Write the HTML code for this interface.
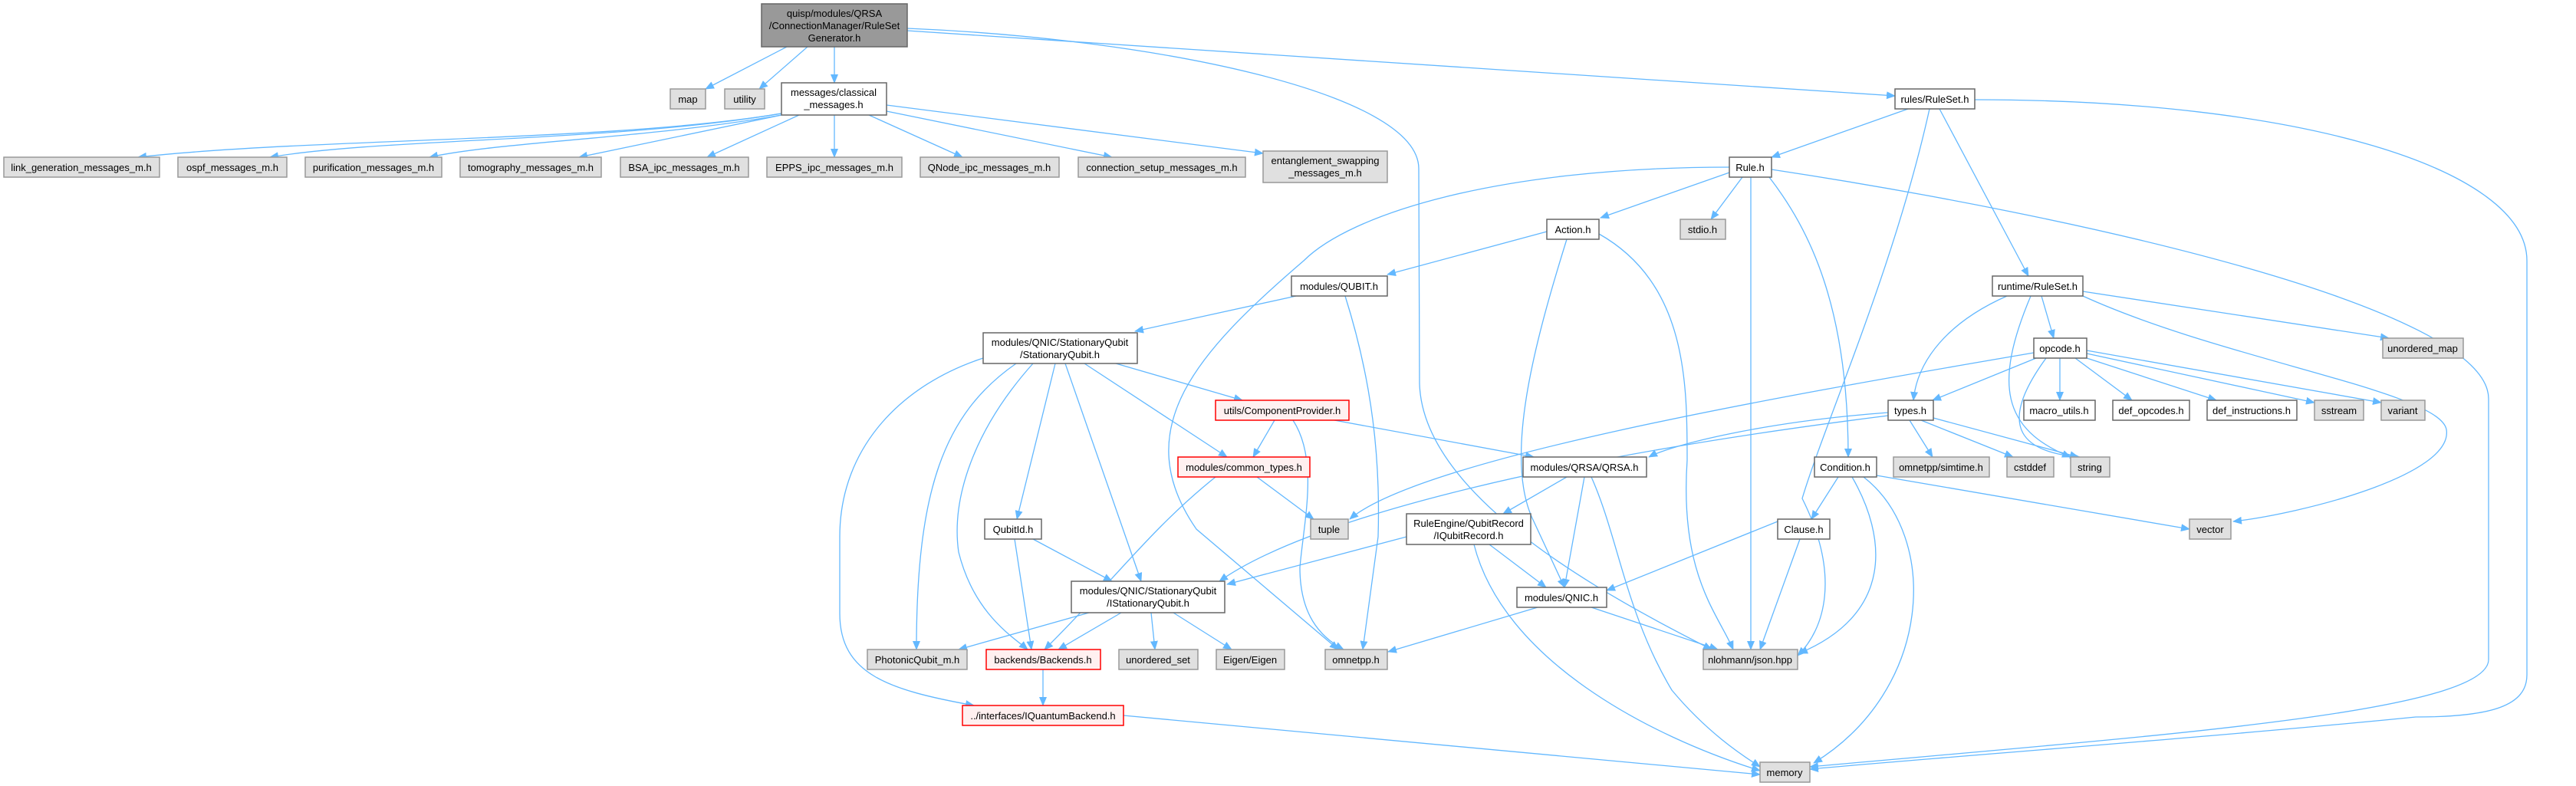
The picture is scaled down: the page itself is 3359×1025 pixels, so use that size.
<!DOCTYPE html>
<html><head><meta charset="utf-8"><style>
html,body{margin:0;padding:0;background:#fff}
svg{display:block}
text{font-family:"Liberation Sans",Helvetica,Arial,sans-serif;font-size:13px;fill:#000;text-anchor:middle}
.e{fill:none;stroke:#63b8ff;stroke-width:1.3}
.x{fill:#e0e0e0;stroke:#999;stroke-width:1.5}
.w{fill:#fff;stroke:#666;stroke-width:1.5}
.r{fill:#fff0f0;stroke:#f00;stroke-width:1.5}
.m{fill:#999;stroke:#666;stroke-width:1.5}
</style></head><body>
<svg width="3359" height="1025" viewBox="0 0 3359 1025" xmlns="http://www.w3.org/2000/svg">
<defs><marker id="a" markerUnits="userSpaceOnUse" markerWidth="12" markerHeight="10" refX="11" refY="5" orient="auto"><path d="M0,0 L12,5 L0,10 z" fill="#63b8ff"/></marker></defs>
<g marker-end="url(#a)">
<path class="e" d="M1026 61 L920 116"/>
<path class="e" d="M1053 61 L990 116"/>
<path class="e" d="M1088 61 L1088 108"/>
<path class="e" d="M1183 37 C1500 50 1850 120 1850 220 L1851 500 C1855 650 2100 780 2232 847"/>
<path class="e" d="M1183 40 L2471 125"/>
<path class="e" d="M1019 148 C800 185 400 180 180 205"/>
<path class="e" d="M1019 148 C800 185 500 180 352 205"/>
<path class="e" d="M1019 150 C850 180 650 185 560 205"/>
<path class="e" d="M1019 150 L755 205"/>
<path class="e" d="M1042 150 L922 205"/>
<path class="e" d="M1088 150 L1088 205"/>
<path class="e" d="M1133 150 L1255 205"/>
<path class="e" d="M1156 145 L1450 205"/>
<path class="e" d="M1156 137 L1647 200"/>
<path class="e" d="M2488 142 L2310 205"/>
<path class="e" d="M2516 142 C2470 350 2380 550 2350 650 C2400 750 2380 820 2344 855"/>
<path class="e" d="M2529 142 L2645 360"/>
<path class="e" d="M2575 130 C3000 130 3295 220 3295 340 L3295 880 C3295 920 3250 935 3150 935 C2900 960 2500 990 2360 1003"/>
<path class="e" d="M2255 225 L2087 284"/>
<path class="e" d="M2272 231 L2231 286"/>
<path class="e" d="M2283 231 L2283 847"/>
<path class="e" d="M2307 231 C2360 300 2410 400 2410 596"/>
<path class="e" d="M2310 221 C2700 280 3245 400 3245 520 L3245 860 C3245 930 2800 960 2360 1000"/>
<path class="e" d="M2255 218 C1950 218 1760 280 1700 340 C1560 460 1470 560 1560 690 L1745 847"/>
<path class="e" d="M2017 302 L1809 358"/>
<path class="e" d="M2043 312 C2000 450 1960 600 2000 680 L2040 766"/>
<path class="e" d="M2085 305 C2200 370 2200 500 2200 600 C2190 750 2240 800 2260 847"/>
<path class="e" d="M1690 386 L1480 432"/>
<path class="e" d="M1754 386 C1790 500 1800 600 1797 700 L1777 847"/>
<path class="e" d="M1455 474 L1620 522"/>
<path class="e" d="M1414 474 L1600 596"/>
<path class="e" d="M1376 474 L1326 677"/>
<path class="e" d="M1389 474 L1488 758"/>
<path class="e" d="M1347 474 C1270 560 1240 650 1250 720 C1270 800 1320 830 1340 847"/>
<path class="e" d="M1325 474 C1230 540 1195 640 1195 847"/>
<path class="e" d="M1282 467 C1180 500 1095 580 1095 700 L1095 800 C1095 880 1160 900 1270 920"/>
<path class="e" d="M1662 548 L1634 596"/>
<path class="e" d="M1740 548 L2000 596"/>
<path class="e" d="M1686 548 C1720 600 1700 680 1695 740 C1695 800 1720 830 1752 847"/>
<path class="e" d="M1639 622 L1713 677"/>
<path class="e" d="M1585 622 C1500 690 1450 760 1362 847"/>
<path class="e" d="M2043 622 L1960 670"/>
<path class="e" d="M2066 622 L2040 766"/>
<path class="e" d="M2075 622 C2110 700 2120 800 2180 900 C2230 960 2280 990 2295 1000"/>
<path class="e" d="M1834 700 L1600 762"/>
<path class="e" d="M1942 710 L2016 766"/>
<path class="e" d="M1922 710 C1960 860 2150 960 2295 1005"/>
<path class="e" d="M1347 703 L1450 758"/>
<path class="e" d="M1323 703 L1345 847"/>
<path class="e" d="M1420 799 L1250 847"/>
<path class="e" d="M1462 799 L1380 847"/>
<path class="e" d="M1501 799 L1506 847"/>
<path class="e" d="M1530 799 L1606 847"/>
<path class="e" d="M1360 873 L1360 920"/>
<path class="e" d="M1465 933 L2295 1010"/>
<path class="e" d="M2005 792 L1810 850"/>
<path class="e" d="M2075 792 L2240 847"/>
<path class="e" d="M2318 680 L2095 770"/>
<path class="e" d="M2347 703 L2295 847"/>
<path class="e" d="M2397 622 L2362 677"/>
<path class="e" d="M2447 620 L2855 690"/>
<path class="e" d="M2415 622 C2460 700 2470 800 2346 852"/>
<path class="e" d="M2430 622 C2530 700 2520 900 2365 995"/>
<path class="e" d="M2617 386 C2540 420 2500 470 2495 522"/>
<path class="e" d="M2662 386 L2678 441"/>
<path class="e" d="M2648 386 C2600 500 2610 560 2700 596"/>
<path class="e" d="M2716 380 L3115 441"/>
<path class="e" d="M2716 386 C2900 470 3180 510 3190 560 C3200 620 3000 670 2912 680"/>
<path class="e" d="M2655 467 L2520 522"/>
<path class="e" d="M2686 467 L2686 522"/>
<path class="e" d="M2706 467 L2780 522"/>
<path class="e" d="M2721 467 L2890 522"/>
<path class="e" d="M2721 461 L3018 525"/>
<path class="e" d="M2721 457 L3105 525"/>
<path class="e" d="M2668 467 C2600 560 2640 590 2712 596"/>
<path class="e" d="M2652 460 C2300 520 1850 600 1760 677"/>
<path class="e" d="M2490 548 L2520 596"/>
<path class="e" d="M2505 548 L2625 596"/>
<path class="e" d="M2521 545 L2710 596"/>
<path class="e" d="M2462 538 C2300 550 2180 580 2150 596"/>
<path class="e" d="M2462 542 C2000 600 1700 680 1590 758"/>
</g>

<rect class="m" x="993" y="5" width="190" height="56"/>
<text x="1088" y="22">quisp/modules/QRSA</text><text x="1088" y="38">/ConnectionManager/RuleSet</text><text x="1088" y="54">Generator.h</text>
<rect class="x" x="874" y="116" width="46" height="26"/><text x="897" y="134">map</text>
<rect class="x" x="945" y="116" width="52" height="26"/><text x="971" y="134">utility</text>
<rect class="w" x="1019" y="108" width="137" height="42"/><text x="1087" y="125">messages/classical</text><text x="1087" y="141">_messages.h</text>
<rect class="x" x="5" y="205" width="203" height="26"/><text x="106" y="223">link_generation_messages_m.h</text>
<rect class="x" x="232" y="205" width="142" height="26"/><text x="303" y="223">ospf_messages_m.h</text>
<rect class="x" x="398" y="205" width="178" height="26"/><text x="487" y="223">purification_messages_m.h</text>
<rect class="x" x="600" y="205" width="184" height="26"/><text x="692" y="223">tomography_messages_m.h</text>
<rect class="x" x="809" y="205" width="167" height="26"/><text x="892" y="223">BSA_ipc_messages_m.h</text>
<rect class="x" x="1000" y="205" width="176" height="26"/><text x="1088" y="223">EPPS_ipc_messages_m.h</text>
<rect class="x" x="1200" y="205" width="181" height="26"/><text x="1290" y="223">QNode_ipc_messages_m.h</text>
<rect class="x" x="1406" y="205" width="218" height="26"/><text x="1515" y="223">connection_setup_messages_m.h</text>
<rect class="x" x="1647" y="197" width="162" height="41"/><text x="1728" y="214">entanglement_swapping</text><text x="1728" y="230">_messages_m.h</text>
<rect class="w" x="2471" y="116" width="104" height="26"/><text x="2523" y="134">rules/RuleSet.h</text>
<rect class="w" x="2255" y="205" width="55" height="26"/><text x="2282" y="223">Rule.h</text>
<rect class="w" x="2017" y="286" width="68" height="26"/><text x="2051" y="304">Action.h</text>
<rect class="x" x="2191" y="286" width="59" height="26"/><text x="2220" y="304">stdio.h</text>
<rect class="w" x="1684" y="360" width="125" height="26"/><text x="1746" y="378">modules/QUBIT.h</text>
<rect class="w" x="2598" y="360" width="118" height="26"/><text x="2657" y="378">runtime/RuleSet.h</text>
<rect class="w" x="1282" y="434" width="201" height="40"/><text x="1382" y="451">modules/QNIC/StationaryQubit</text><text x="1382" y="467">/StationaryQubit.h</text>
<rect class="w" x="2652" y="441" width="69" height="26"/><text x="2686" y="459">opcode.h</text>
<rect class="x" x="3107" y="441" width="105" height="26"/><text x="3159" y="459">unordered_map</text>
<rect class="r" x="1585" y="522" width="174" height="26"/><text x="1672" y="540">utils/ComponentProvider.h</text>
<rect class="w" x="2462" y="522" width="59" height="26"/><text x="2491" y="540">types.h</text>
<rect class="w" x="2639" y="522" width="93" height="26"/><text x="2685" y="540">macro_utils.h</text>
<rect class="w" x="2755" y="522" width="100" height="26"/><text x="2805" y="540">def_opcodes.h</text>
<rect class="w" x="2878" y="522" width="117" height="26"/><text x="2936" y="540">def_instructions.h</text>
<rect class="x" x="3018" y="522" width="64" height="26"/><text x="3050" y="540">sstream</text>
<rect class="x" x="3105" y="522" width="57" height="26"/><text x="3133" y="540">variant</text>
<rect class="r" x="1536" y="596" width="172" height="26"/><text x="1622" y="614">modules/common_types.h</text>
<rect class="w" x="1986" y="596" width="161" height="26"/><text x="2066" y="614">modules/QRSA/QRSA.h</text>
<rect class="w" x="2366" y="596" width="81" height="26"/><text x="2406" y="614">Condition.h</text>
<rect class="x" x="2469" y="596" width="125" height="26"/><text x="2531" y="614">omnetpp/simtime.h</text>
<rect class="x" x="2617" y="596" width="61" height="26"/><text x="2647" y="614">cstddef</text>
<rect class="x" x="2700" y="596" width="51" height="26"/><text x="2725" y="614">string</text>
<rect class="w" x="1284" y="677" width="74" height="26"/><text x="1321" y="695">QubitId.h</text>
<rect class="x" x="1709" y="677" width="49" height="26"/><text x="1733" y="695">tuple</text>
<rect class="w" x="1834" y="670" width="162" height="40"/><text x="1915" y="687">RuleEngine/QubitRecord</text><text x="1915" y="703">/IQubitRecord.h</text>
<rect class="w" x="2318" y="677" width="68" height="26"/><text x="2352" y="695">Clause.h</text>
<rect class="x" x="2855" y="677" width="54" height="26"/><text x="2882" y="695">vector</text>
<rect class="w" x="1397" y="758" width="200" height="41"/><text x="1497" y="775">modules/QNIC/StationaryQubit</text><text x="1497" y="791">/IStationaryQubit.h</text>
<rect class="w" x="1978" y="766" width="117" height="26"/><text x="2036" y="784">modules/QNIC.h</text>
<rect class="x" x="1131" y="847" width="130" height="26"/><text x="1196" y="865">PhotonicQubit_m.h</text>
<rect class="r" x="1286" y="847" width="149" height="26"/><text x="1360" y="865">backends/Backends.h</text>
<rect class="x" x="1459" y="847" width="103" height="26"/><text x="1510" y="865">unordered_set</text>
<rect class="x" x="1586" y="847" width="89" height="26"/><text x="1630" y="865">Eigen/Eigen</text>
<rect class="x" x="1728" y="847" width="81" height="26"/><text x="1768" y="865">omnetpp.h</text>
<rect class="x" x="2221" y="847" width="123" height="26"/><text x="2282" y="865">nlohmann/json.hpp</text>
<rect class="r" x="1255" y="920" width="210" height="26"/><text x="1360" y="938">../interfaces/IQuantumBackend.h</text>
<rect class="x" x="2295" y="994" width="65" height="26"/><text x="2327" y="1012">memory</text>
</svg>
</body></html>
